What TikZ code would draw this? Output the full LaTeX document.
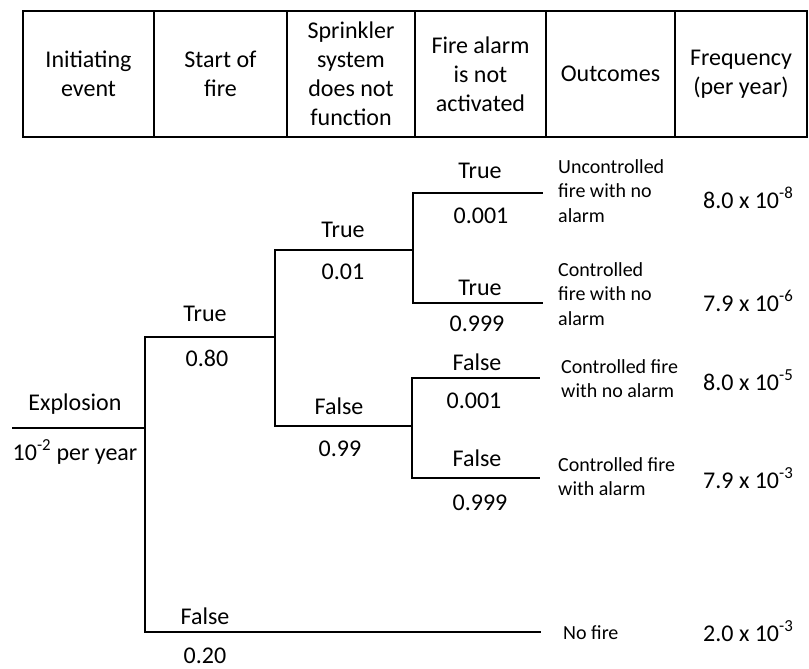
\documentclass[tikz,border=0pt]{standalone}
\usepackage{fontspec}
\setmainfont{Carlito}
\begin{document}
\begin{tikzpicture}[x=1pt,y=-1pt,
  cell/.style={draw, line width=2pt, inner sep=0pt, minimum height=126pt,
    align=center, font=\fontsize{24}{29}\selectfont},
  lbl/.style={inner sep=0pt, anchor=base, font=\fontsize{24}{29}\selectfont},
  outc/.style={inner sep=0pt, anchor=west, align=left, font=\fontsize{20}{24.5}\selectfont},
  freq/.style={inner sep=0pt, anchor=base west, font=\fontsize{24}{29}\selectfont},
  lite/.style={line width=1.3pt, line cap=rect},
  midw/.style={line width=1.8pt, line cap=rect},
  heavy/.style={line width=2.4pt, line cap=rect}
]
\useasboundingbox (0,0) rectangle (809,669);

% header row
\node[cell, minimum width=131pt] (h1) at (88.5,74) {Initiating\\event};
\node[cell, minimum width=133pt] (h2) at (220.5,74) {Start of\\fire};
\node[cell, minimum width=128pt] (h3) at (351,74) {Sprinkler\\system\\does not\\function};
\node[cell, minimum width=131pt] (h4) at (480.5,74) {Fire alarm\\is not\\activated};
\node[cell, minimum width=129pt] (h5) at (610.5,74) {Outcomes};
\node[cell, minimum width=132pt] (h6) at (741,74) {Frequency\\(per year)};

% branch points and ends of the event tree
\coordinate (e0) at (13,428);
\coordinate (e1) at (145,428);
\coordinate (s1t) at (145,337);
\coordinate (s1f) at (145,632);
\coordinate (s2) at (275,337);
\coordinate (s2t) at (275,250);
\coordinate (s2f) at (275,426);
\coordinate (a1) at (413,250);
\coordinate (a1t) at (413,193);
\coordinate (a1f) at (413,303);
\coordinate (b1) at (412,426);
\coordinate (b1t) at (412,378);
\coordinate (b1f) at (412,478);
\coordinate (o1) at (542,193);
\coordinate (o2) at (542,303);
\coordinate (o3) at (539,378);
\coordinate (o4) at (539,478);
\coordinate (o5) at (540,632);

% tree lines
\draw[lite] (e0) -- (e1);
\draw[heavy] (s1t) -- (s1f);
\draw[heavy] (s1t) -- (s2);
\draw[heavy] (s1f) -- (o5);
\draw[midw] (s2t) -- (s2f);
\draw[lite] (s2t) -- (a1);
\draw[heavy] (s2f) -- (b1);
\draw[midw] (a1t) -- (a1f);
\draw[lite] (a1t) -- (o1);
\draw[heavy] (a1f) -- (o2);
\draw[midw] (b1t) -- (b1f);
\draw[lite] (b1t) -- (o3);
\draw[heavy] (b1f) -- (o4);

% initiating event
\node[lbl] (ev) at (75,410) {Explosion};
\node[lbl] (evf) at (75,460) {10\textsuperscript{-2} per year};

% branch labels
\node[lbl] (l1) at (205,321) {True};
\node[lbl] (p1) at (207,366) {0.80};
\node[lbl] (l2) at (343,237) {True};
\node[lbl] (p2) at (343,279) {0.01};
\node[lbl] (l3) at (339,414) {False};
\node[lbl] (p3) at (340,456) {0.99};
\node[lbl] (l4) at (480,178) {True};
\node[lbl] (p4) at (481,223) {0.001};
\node[lbl] (l5) at (480,295) {True};
\node[lbl] (p5) at (477,331) {0.999};
\node[lbl] (l6) at (477,370) {False};
\node[lbl] (p6) at (474,408) {0.001};
\node[lbl] (l7) at (477,466) {False};
\node[lbl] (p7) at (480,510) {0.999};
\node[lbl] (l8) at (205,624) {False};
\node[lbl] (p8) at (205,663) {0.20};

% outcomes
\node[outc] (c1) at (558,191) {Uncontrolled\\fire with no\\alarm};
\node[outc] (c2) at (558,294) {Controlled\\fire with no\\alarm};
\node[outc] (c3) at (561,378.5) {Controlled fire\\with no alarm};
\node[outc] (c4) at (558,476.5) {Controlled fire\\with alarm};
\node[outc] (c5) at (563,633) {No fire};

% frequencies
\node[freq] (f1) at (703,208) {8.0 x 10\textsuperscript{-8}};
\node[freq] (f2) at (703,311) {7.9 x 10\textsuperscript{-6}};
\node[freq] (f3) at (703,390) {8.0 x 10\textsuperscript{-5}};
\node[freq] (f4) at (703,488) {7.9 x 10\textsuperscript{-3}};
\node[freq] (f5) at (703,641) {2.0 x 10\textsuperscript{-3}};
\end{tikzpicture}
\end{document}
